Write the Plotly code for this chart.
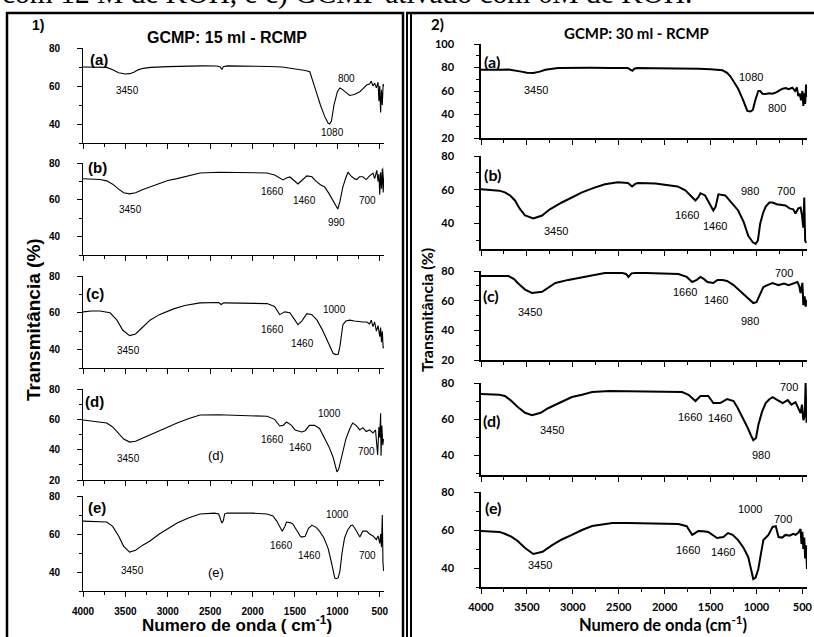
import plotly.graph_objects as go

W, H = 814, 637

# ---------------- DATA ----------------
# Panel 1 (GCMP: 15 ml - RCMP)
p1a_wn = [4000, 3900, 3800, 3720, 3650, 3580, 3500, 3450, 3400, 3350, 3290, 3200, 3000, 2800, 2600, 2420, 2380, 2362, 2345, 2300, 2200, 2000, 1800, 1650, 1560, 1450, 1380, 1325, 1290, 1250, 1200, 1150, 1110, 1090, 1070, 1040, 1000, 970, 950, 900, 855, 800, 735, 700, 655, 620, 600, 580, 560, 540, 520, 510, 500, 490, 480, 470, 460, 450]
p1a_t = [70, 70, 70, 69.8, 68.5, 67, 66.3, 66.5, 67.2, 68.5, 69.3, 69.8, 70.2, 70.5, 70.6, 70.5, 70, 68.7, 70.2, 70.6, 70.6, 70.5, 70.3, 70, 69.5, 68.8, 68.2, 67.5, 63, 57, 50, 44, 40.5, 40, 41.5, 50, 57, 59, 58.5, 56.5, 55, 55.5, 57, 58.5, 60.5, 61, 62.6, 60, 61.5, 59, 62, 52, 60, 46, 58, 50, 61, 60]

p1b_wn = [4000, 3900, 3800, 3720, 3650, 3580, 3520, 3450, 3380, 3300, 3210, 3100, 3000, 2890, 2750, 2620, 2400, 2200, 2000, 1830, 1740, 1680, 1640, 1600, 1560, 1510, 1465, 1420, 1360, 1300, 1250, 1200, 1150, 1100, 1050, 1020, 995, 970, 950, 935, 900, 875, 840, 800, 770, 740, 700, 660, 620, 580, 560, 535, 520, 510, 500, 490, 480, 470, 460, 445]
p1b_t = [71.4, 71.2, 71, 70.3, 68.5, 65.8, 63.8, 63.2, 63.8, 65.5, 67, 69, 70.5, 71.5, 73.2, 74.6, 75, 75, 75, 74.6, 73.5, 72, 70.8, 71.8, 72.4, 70.5, 68.6, 70.5, 73, 72.5, 70, 68.2, 67, 63.5, 59.5, 57, 55, 59, 64, 67, 72, 75, 73, 71.5, 71, 72.5, 72.5, 71, 73, 74.5, 71.5, 76, 70, 74, 62.7, 75, 66, 77, 64, 78]

p1c_wn = [4000, 3900, 3800, 3680, 3600, 3530, 3450, 3380, 3300, 3210, 3100, 2940, 2800, 2620, 2400, 2370, 2340, 2200, 2000, 1830, 1740, 1680, 1620, 1560, 1500, 1465, 1420, 1360, 1300, 1240, 1180, 1120, 1080, 1050, 1020, 990, 970, 950, 935, 900, 855, 800, 740, 700, 655, 620, 600, 580, 560, 540, 520, 500, 490, 480, 470, 460, 450]
p1c_t = [60.5, 61, 61, 60, 56, 50.5, 47.6, 48.5, 52, 56, 59, 62, 64, 65.4, 65.6, 64.5, 65.4, 65.4, 65.3, 65, 63.5, 59, 60.5, 60, 56, 53.5, 55.5, 59.5, 59, 56, 51, 45, 40.5, 38, 37.3, 37.5, 41.6, 48, 53.5, 55.5, 56, 55.5, 55, 55, 55, 54, 56, 52.5, 55, 50, 53, 47, 52, 44, 50, 41, 41]

p1d_wn = [4000, 3900, 3800, 3720, 3650, 3580, 3520, 3450, 3380, 3300, 3210, 3100, 2890, 2750, 2620, 2400, 2200, 2000, 1830, 1740, 1680, 1640, 1600, 1540, 1500, 1420, 1380, 1330, 1270, 1210, 1150, 1100, 1050, 1020, 1005, 985, 960, 935, 900, 855, 820, 780, 735, 700, 660, 620, 580, 550, 525, 510, 500, 490, 485, 475, 465, 455]
p1d_t = [59.6, 59, 58.5, 57.6, 55, 51, 47, 45, 45.5, 47.5, 49.7, 52.5, 57.6, 60.5, 62.9, 63, 62.8, 62.5, 62, 60, 55.6, 56, 58.2, 56, 53, 51.7, 52.5, 56, 56, 54, 48, 42, 35, 29, 25.3, 27, 33, 39.8, 47, 53.6, 57.6, 56, 53, 54.5, 52, 53, 51, 53, 36.5, 55, 48, 64, 36, 56, 43, 47]

p1e_wn = [4000, 3900, 3800, 3720, 3650, 3580, 3520, 3450, 3380, 3300, 3210, 3100, 2890, 2750, 2620, 2450, 2400, 2375, 2362, 2345, 2330, 2300, 2200, 2000, 1830, 1760, 1715, 1680, 1650, 1620, 1600, 1560, 1525, 1480, 1440, 1420, 1380, 1340, 1300, 1250, 1210, 1160, 1110, 1070, 1040, 1030, 1010, 990, 970, 945, 915, 880, 840, 820, 780, 735, 700, 655, 620, 580, 540, 520, 500, 490, 480, 470, 462, 455]
p1e_t = [66.8, 66.7, 66.5, 66.3, 64, 59, 53.5, 50.5, 51.5, 54, 56.3, 60, 65.8, 68.5, 70.5, 71, 70.5, 68, 65.8, 67, 70.5, 71, 71, 71, 70.5, 69.5, 66.8, 63.5, 61.5, 64, 66.3, 66, 65.3, 62, 59, 58.4, 58.8, 63, 64.7, 63.5, 61.5, 58, 52.6, 45, 39, 36.8, 36.5, 37, 40.5, 50, 57.9, 62, 64.5, 64.7, 62, 58.4, 61.5, 61.5, 60, 59, 57, 59, 55, 60, 53, 70, 45, 40.5]

# Panel 2 (GCMP: 30 ml - RCMP)
p2a_wn = [4000, 3900, 3800, 3700, 3630, 3560, 3500, 3430, 3360, 3300, 3160, 3000, 2800, 2600, 2400, 2370, 2350, 2330, 2300, 2100, 1900, 1700, 1630, 1500, 1370, 1320, 1285, 1240, 1200, 1150, 1100, 1065, 1040, 1010, 980, 960, 935, 900, 860, 825, 780, 740, 715, 680, 650, 610, 580, 560, 545, 530, 515, 500, 490, 480, 470, 460, 450]
p2a_t = [78, 78.3, 78, 78.2, 77.5, 76.5, 75.5, 75.4, 76.5, 78, 79.6, 79.8, 79.8, 79.6, 79.5, 78, 77.3, 79, 79.5, 79.3, 79.3, 79.2, 79, 78.5, 77.6, 75.5, 72.5, 67, 62, 53, 43, 42.5, 44, 53, 60, 60, 57.7, 57.5, 58, 57.7, 59, 61, 62, 62.5, 61.5, 62.8, 60, 63, 55.7, 58, 52, 60, 47.3, 58, 49, 65.5, 55]

p2b_wn = [4000, 3900, 3800, 3740, 3680, 3630, 3580, 3520, 3430, 3335, 3250, 3120, 3000, 2900, 2780, 2650, 2510, 2400, 2355, 2320, 2290, 2200, 2100, 1960, 1860, 1775, 1700, 1665, 1635, 1610, 1560, 1510, 1470, 1445, 1415, 1340, 1280, 1200, 1140, 1090, 1040, 1010, 985, 960, 930, 900, 860, 825, 780, 740, 685, 640, 600, 575, 545, 520, 505, 490, 480, 470, 460]
p2b_t = [60.3, 60, 59.5, 58.5, 56.5, 53.7, 49, 44.8, 43, 44.8, 48.5, 52.5, 56, 58.5, 61, 63.3, 64.5, 64, 62, 63.5, 64, 64, 63.8, 62.7, 62, 59.7, 56, 53.7, 55.5, 58, 56.7, 52, 47.8, 50, 57.3, 56.7, 53, 47.8, 41, 32.8, 29, 28, 30, 40, 46, 50.1, 52.5, 52.5, 51.5, 51, 50.7, 49, 48.5, 46, 49, 49.5, 45, 37.6, 55.5, 30, 28.6]

p2c_wn = [4000, 3900, 3800, 3700, 3640, 3600, 3520, 3445, 3335, 3260, 3190, 3050, 2900, 2780, 2650, 2460, 2420, 2395, 2360, 2320, 2200, 2000, 1850, 1760, 1700, 1650, 1610, 1570, 1535, 1470, 1425, 1370, 1320, 1250, 1155, 1090, 1035, 1000, 980, 925, 880, 825, 760, 700, 650, 600, 555, 535, 520, 500, 490, 475, 465, 450]
p2c_t = [76.6, 76.6, 76.4, 76.6, 74.5, 71.9, 67.5, 65.2, 66, 69, 71.9, 74, 76, 77.2, 78.6, 78.6, 78, 76, 78.4, 78.6, 78.6, 78.4, 78, 76, 72.6, 74, 76, 74.5, 72.6, 71.9, 74, 74, 73.3, 70.5, 65.2, 61, 58.4, 59, 61.8, 69.2, 70.5, 71.9, 70.5, 71.5, 70.5, 71.5, 72.6, 70, 65.2, 72, 57, 63, 56, 60.4]

p2d_wn = [4000, 3900, 3800, 3740, 3680, 3600, 3520, 3445, 3350, 3270, 3150, 3010, 2900, 2790, 2600, 2400, 2200, 2000, 1810, 1740, 1700, 1665, 1610, 1525, 1470, 1430, 1395, 1320, 1250, 1210, 1150, 1100, 1060, 1035, 1005, 980, 940, 900, 860, 825, 770, 715, 660, 620, 575, 545, 520, 505, 490, 475, 465, 455]
p2d_t = [73.9, 73.8, 73.5, 72.8, 70.5, 66.7, 63.5, 62.2, 63.5, 66, 69, 72.2, 73.5, 75, 75.5, 75.3, 75.3, 75, 75, 73.5, 71.5, 70, 72.8, 72.8, 68.9, 68.8, 68.9, 71.1, 70, 66.7, 61, 55.6, 51, 48.3, 49.5, 56.7, 64, 68.9, 71, 72.2, 70.5, 68.9, 70.5, 68, 69.4, 66, 63.3, 68, 59.4, 62, 80, 58]

p2e_wn = [4000, 3900, 3800, 3740, 3670, 3600, 3520, 3430, 3330, 3225, 3120, 3010, 2900, 2790, 2570, 2400, 2200, 2000, 1850, 1760, 1700, 1665, 1635, 1580, 1525, 1430, 1360, 1310, 1260, 1200, 1140, 1090, 1060, 1035, 1010, 980, 950, 925, 870, 825, 790, 760, 720, 685, 640, 600, 575, 545, 520, 510, 500, 490, 480, 470, 460, 450]
p2e_t = [59.5, 59.3, 59, 58, 56.5, 54.2, 50.5, 47.4, 48.5, 52, 55, 57.4, 60, 62.1, 63.7, 63.7, 63.5, 63.3, 63.2, 62, 57.4, 58.5, 59.5, 59.3, 59, 55.8, 56.3, 58.4, 57.5, 54.7, 50.5, 45.8, 40, 34.2, 35, 39.5, 48, 54.7, 57.4, 61.6, 62, 56.3, 56, 57.4, 57, 58, 57.5, 58.5, 60.5, 52.6, 59, 50, 56, 45, 52, 39.5]

x_tick_vals = [4000, 3500, 3000, 2500, 2000, 1500, 1000, 500]
x_tick_text = ["4000", "3500", "3000", "2500", "2000", "1500", "1000", "500"]

sample_tags = ["(a)", "(b)", "(c)", "(d)", "(e)"]

# ---------------- LAYOUT ----------------
def px(x):
    return x / W

def py(y):
    return 1 - y / H

F1 = "Liberation Sans, Arial, sans-serif"
F2 = "Lato, Carlito, Calibri, sans-serif"

panels = [
    dict(
        series=[(p1a_wn, p1a_t), (p1b_wn, p1b_t), (p1c_wn, p1c_t), (p1d_wn, p1d_t), (p1e_wn, p1e_t)],
        xdom=(83, 384),
        ydoms=[(48, 143), (163, 255), (276, 368), (389, 480), (496, 591)],
        yranges=[(30, 80), (30, 80), (30, 80), (20, 80), (30, 80)],
        font=F1, tick_size=10, lw=1.1, axlw=1.0, ystand=15, xstand=6,
    ),
    dict(
        series=[(p2a_wn, p2a_t), (p2b_wn, p2b_t), (p2c_wn, p2c_t), (p2d_wn, p2d_t), (p2e_wn, p2e_t)],
        xdom=(481, 807),
        ydoms=[(44, 138), (156, 249), (271, 360), (383, 475), (492, 587)],
        yranges=[(20, 100), (25, 80), (20, 80), (29, 80), (30, 80)],
        font=F2, tick_size=11, lw=2.0, axlw=1.5, ystand=18, xstand=4,
    ),
]

fig = go.Figure()
layout = dict(
    width=W, height=H,
    margin=dict(l=0, r=0, t=0, b=0, autoexpand=False),
    paper_bgcolor="white", plot_bgcolor="white",
    showlegend=False,
)

idx = 0
for p in panels:
    for k, (wn, t) in enumerate(p["series"]):
        idx += 1
        xa = "xaxis" if idx == 1 else f"xaxis{idx}"
        ya = "yaxis" if idx == 1 else f"yaxis{idx}"
        xr = "x" if idx == 1 else f"x{idx}"
        yr = "y" if idx == 1 else f"y{idx}"
        fig.add_trace(go.Scatter(x=wn, y=t, mode="lines",
                                 line=dict(color="black", width=p["lw"]),
                                 xaxis=xr, yaxis=yr, hoverinfo="skip"))
        top, bot = p["ydoms"][k]
        bottom_axis = (k == 4)
        layout[xa] = dict(
            domain=[px(p["xdom"][0]), px(p["xdom"][1])],
            anchor=yr, range=[4000, 450],
            showline=True, linecolor="black", linewidth=p["axlw"],
            ticks="outside", ticklen=5, tickwidth=1, tickcolor="black",
            tickvals=x_tick_vals, ticktext=x_tick_text,
            showticklabels=bottom_axis,
            ticklabelstandoff=p["xstand"],
            minor=dict(ticks="outside", ticklen=3, tickwidth=1, tickcolor="black",
                       tickvals=[3750, 3250, 2750, 2250, 1750, 1250, 750]),
            tickfont=dict(family=p["font"], size=p["tick_size"], color="black", weight="bold"),
            showgrid=False, zeroline=False, fixedrange=True, automargin=False,
        )
        layout[ya] = dict(
            domain=[py(bot), py(top)],
            anchor=xr, range=list(p["yranges"][k]),
            showline=True, linecolor="black", linewidth=p["axlw"],
            ticks="outside", ticklen=5, tickwidth=1, tickcolor="black",
            tick0=0, dtick=20,
            ticklabelstandoff=p["ystand"],
            minor=dict(ticks="outside", ticklen=3, tickwidth=1, tickcolor="black", dtick=10, tick0=0),
            tickfont=dict(family=p["font"], size=p["tick_size"], color="black", weight="bold"),
            showgrid=False, zeroline=False, fixedrange=True, automargin=False,
        )

annotations = []

def txt(s, x, y, size, family, bold=False, angle=0, xanchor="center", yanchor="middle"):
    annotations.append(dict(
        text=s, x=px(x), y=py(y), xref="paper", yref="paper",
        xanchor=xanchor, yanchor=yanchor, showarrow=False, textangle=angle,
        font=dict(family=family, size=size, color="black", weight="bold" if bold else "normal"),
    ))

# top caption fragment (cut off by the top edge, as in the reference)
txt("com 12 M de KOH, e c) GCMP ativado com 6M de KOH.", 0, 12, 29.5,
    "Liberation Serif, Times New Roman, serif", xanchor="left", yanchor="bottom")

# panel headings
txt("1)", 38, 25, 14, F1, bold=True)
txt("GCMP: 15 ml - RCMP", 227, 38, 16, F1, bold=True)
txt("2)", 437, 24, 15, F2, bold=True)
txt("GCMP: 30 ml - RCMP", 636, 33, 15, F2, bold=True)

# axis titles
txt("Transmitância (%)", 33, 320, 19, F1, bold=True, angle=-90)
txt("Transmitância (%)", 426, 310, 16, F2, bold=True, angle=-90)
txt("Numero de onda ( cm<sup>-1</sup>)", 237, 624, 17, F1, bold=True)
txt("Numero de onda (cm<sup>-1</sup>)", 663, 624, 16.5, F2, bold=True)

# sample tags
for tag, (x, y) in zip(sample_tags, [(99, 59), (97, 167), (95, 293), (94, 401), (97, 507)]):
    txt(tag, x, y, 15, F1, bold=True)
for tag, (x, y) in zip(sample_tags, [(492, 62), (492, 174), (491, 295), (491, 420), (493, 507)]):
    txt(tag, x, y, 16, F2, bold=True)

# band labels, panel 1
p1_labels = [
    ("3450", 127, 90), ("800", 346, 78), ("1080", 332, 132),
    ("3450", 130, 209), ("1660", 272, 192), ("1460", 304, 201), ("990", 336, 222), ("700", 367, 201),
    ("3450", 128, 350), ("1660", 272, 329), ("1460", 302, 343), ("1000", 334, 309),
    ("3450", 128, 458), ("(d)", 216, 455), ("1660", 272, 439), ("1460", 300, 447), ("1000", 329, 413), ("700", 366, 451),
    ("3450", 132, 570), ("(e)", 216, 572), ("1660", 281, 545), ("1460", 309, 555), ("1000", 337, 514), ("700", 367, 555),
]
for s, x, y in p1_labels:
    size = 13 if s.startswith("(") else 10
    txt(s, x, y, size, F1)

p2_labels = [
    ("3450", 536, 90), ("1080", 751, 77), ("800", 777, 108),
    ("3450", 556, 231), ("1660", 687, 215), ("1460", 715, 226), ("980", 750, 191), ("700", 786, 191),
    ("3450", 530, 312), ("1660", 685, 292), ("1460", 716, 300), ("980", 750, 321), ("700", 784, 273),
    ("3450", 552, 430), ("1660", 690, 417), ("1460", 720, 418), ("980", 761, 455), ("700", 789, 387),
    ("3450", 540, 565), ("1660", 688, 550), ("1460", 723, 552), ("1000", 750, 509), ("700", 783, 519),
]
for s, x, y in p2_labels:
    txt(s, x, y, 11, F1)

layout["annotations"] = annotations

# panel frames
shapes = [
    dict(type="rect", xref="paper", yref="paper", x0=px(7), x1=px(403), y0=py(660), y1=py(13),
         line=dict(color="black", width=2.5)),
    dict(type="line", xref="paper", yref="paper", x0=px(407), x1=px(407), y0=py(660), y1=py(13),
         line=dict(color="black", width=2)),
    dict(type="line", xref="paper", yref="paper", x0=px(411), x1=px(411), y0=py(660), y1=py(13),
         line=dict(color="black", width=2)),
    dict(type="line", xref="paper", yref="paper", x0=px(406), x1=px(830), y0=py(13), y1=py(13),
         line=dict(color="black", width=2.5)),
]
layout["shapes"] = shapes

fig.update_layout(**layout)
fig.write_html("out.html")
